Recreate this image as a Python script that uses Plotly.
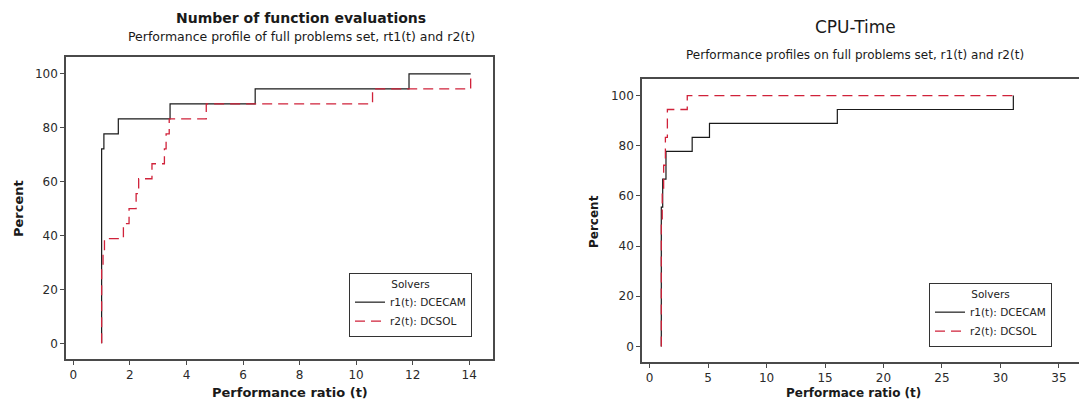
import plotly.graph_objects as go

# ---------------- data ----------------
# Left panel: Number of function evaluations
nfe_r1_t = [1.0, 1.0, 1.08, 1.59, 3.42, 6.43, 11.87, 14.05]
nfe_r1_pct = [0, 72.22, 77.78, 83.33, 88.89, 94.44, 100, 100]
nfe_r2_t = [1.0, 1.0, 1.05, 1.10, 1.77, 1.97, 2.22, 2.31, 2.78, 3.22, 3.28, 3.39, 4.70, 10.58, 14.05]
nfe_r2_pct = [0, 27.78, 33.33, 38.89, 44.44, 50.0, 55.56, 61.11, 66.67, 72.22, 77.78, 83.33, 88.89, 94.44, 100]

# Right panel: CPU-Time
cpu_r1_t = [1.0, 1.0, 1.12, 1.40, 3.64, 5.12, 16.05, 31.1]
cpu_r1_pct = [0, 55.56, 66.67, 77.78, 83.33, 88.89, 94.44, 100]
cpu_r2_t = [1.0, 1.0, 1.08, 1.20, 1.35, 1.52, 3.22, 31.1]
cpu_r2_pct = [0, 50.0, 61.11, 72.22, 83.33, 94.44, 100, 100]

series_names = ["r1(t): DCECAM", "r2(t): DCSOL"]
left_xticks = [0, 2, 4, 6, 8, 10, 12, 14]
right_xticks = [0, 5, 10, 15, 20, 25, 30, 35]
yticks = [0, 20, 40, 60, 80, 100]

# page body has an 8px margin: the figure starts at (8, 8) in the window
OFF = 8
W, H = 1087 - OFF, 405 - OFF
FONT = "DejaVu Sans"
BLACK = "#1a1a1a"
RED = "#d0223a"
FRAME = "#4a4a4a"


def px_x(p):
    return (p - OFF) / W


def px_y(p):
    return 1 - (p - OFF) / H


fig = go.Figure()
fig.add_trace(go.Scatter(x=nfe_r1_t, y=nfe_r1_pct, mode="lines", line_shape="hv",
                         line=dict(color=BLACK, width=1.2), name=series_names[0],
                         xaxis="x", yaxis="y", legend="legend"))
fig.add_trace(go.Scatter(x=nfe_r2_t, y=nfe_r2_pct, mode="lines", line_shape="hv",
                         line=dict(color=RED, width=1.3, dash="10px,6px"), name=series_names[1],
                         xaxis="x", yaxis="y", legend="legend"))
fig.add_trace(go.Scatter(x=cpu_r1_t, y=cpu_r1_pct, mode="lines", line_shape="hv",
                         line=dict(color=BLACK, width=1.2), name=series_names[0],
                         xaxis="x2", yaxis="y2", legend="legend2"))
fig.add_trace(go.Scatter(x=cpu_r2_t, y=cpu_r2_pct, mode="lines", line_shape="hv",
                         line=dict(color=RED, width=1.3, dash="10px,6px"), name=series_names[1],
                         xaxis="x2", yaxis="y2", legend="legend2"))

axis_common = dict(showgrid=False, zeroline=False, showline=True, mirror=True,
                   linecolor=FRAME, linewidth=1.5, ticks="outside", ticklen=4,
                   tickcolor=FRAME, tickwidth=1,
                   tickfont=dict(family=FONT, size=12, color="#2a2a2a"))

legend_common = dict(bgcolor="white", bordercolor="#333333", borderwidth=1,
                     font=dict(family=FONT, size=10.5, color="#222222"),
                     title=dict(text="Solvers", side="top center",
                                font=dict(family=FONT, size=10.5, color="#222222")),
                     tracegroupgap=0, itemwidth=30)

# frame/tick positions (window pixels)
L_frame = (66, 493, 57, 359)      # left, right, top, bottom
R_frame = (642, 1080, 79, 362)

fig.update_layout(
    width=W, height=H, margin=dict(l=0, r=0, t=0, b=0),
    paper_bgcolor="white", plot_bgcolor="white", showlegend=True,
    xaxis=dict(domain=[px_x(L_frame[0]), px_x(L_frame[1])], range=[-0.26, 14.84],
               tickvals=left_xticks, anchor="y", **axis_common),
    yaxis=dict(domain=[px_y(L_frame[3]), px_y(L_frame[2])], range=[-5.8, 106.3],
               tickvals=yticks, anchor="x", **axis_common),
    xaxis2=dict(domain=[px_x(R_frame[0]), px_x(R_frame[1])], range=[-0.65, 36.8],
                tickvals=right_xticks, anchor="y2", **axis_common),
    yaxis2=dict(domain=[px_y(R_frame[3]), px_y(R_frame[2])], range=[-6.2, 106.6],
                tickvals=yticks, anchor="x2", **axis_common),
    legend=dict(x=px_x(472), y=px_y(337), xanchor="right", yanchor="bottom", **legend_common),
    legend2=dict(x=px_x(1052), y=px_y(347), xanchor="right", yanchor="bottom", **legend_common),
)

ann = [
    dict(text="<b>Number of function evaluations</b>", x=301, y=18, size=14),
    dict(text="Performance profile of full problems set, rt1(t) and r2(t)", x=301, y=37, size=12.5),
    dict(text="<b>Performance ratio (t)</b>", x=290, y=392, size=13),
    dict(text="CPU-Time", x=855, y=27, size=17),
    dict(text="Performance profiles on full problems set, r1(t) and r2(t)", x=855, y=55, size=12),
    dict(text="<b>Performace ratio (t)</b>", x=853, y=393, size=12),
]
for a in ann:
    fig.add_annotation(text=a["text"], x=px_x(a["x"]), y=px_y(a["y"]), xref="paper", yref="paper",
                       xanchor="center", yanchor="middle", showarrow=False, borderpad=0,
                       font=dict(family=FONT, size=a["size"], color="#1a1a1a"))

for xc, yc, sz in [(18, 209, 13), (594, 222, 12)]:
    fig.add_annotation(text="<b>Percent</b>", x=px_x(xc), y=px_y(yc), xref="paper", yref="paper",
                       xanchor="center", yanchor="middle", showarrow=False, textangle=-90, borderpad=0,
                       font=dict(family=FONT, size=sz, color="#1a1a1a"))

fig.write_html("out.html")
